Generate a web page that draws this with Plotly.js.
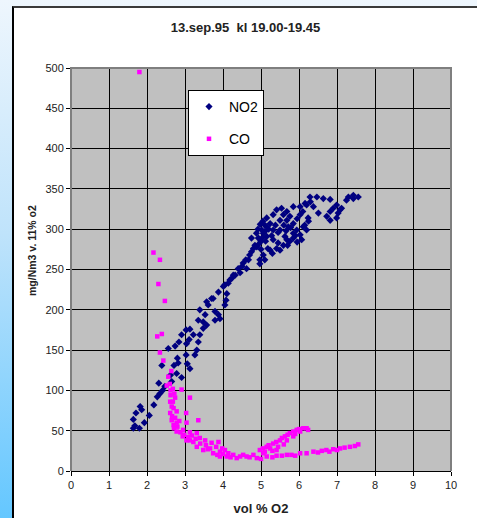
<!DOCTYPE html>
<html><head><meta charset="utf-8">
<script src="https://cdn.plot.ly/plotly-3.0.1.min.js"></script>
<style>
html,body{margin:0;padding:0;width:477px;height:518px;overflow:hidden;}
#bg{position:absolute;left:0;top:0;width:477px;height:518px;background:linear-gradient(to bottom,#eef6fd 0%,#bfe3fb 45%,#64c7ff 100%);}
#frame{position:absolute;left:12px;top:6px;width:470px;height:520px;background:#fff;border-left:2px solid #000;border-top:2px solid #3a3a3a;}
#gd{position:absolute;left:0;top:0;width:477px;height:518px;}
</style></head>
<body>
<div id="bg"></div><div id="frame"></div><div id="gd"></div>
<script>
const chartTitle = '13.sep.95\u00a0 kl 19.00-19.45';
const xTitle = 'vol % O2';
const yTitle = 'mg/Nm3 v. 11% o2';
const seriesNames = ['NO2', 'CO'];

const no2X = [1.64,1.68,1.80,1.64,1.71,1.82,1.86,1.93,2.06,2.18,2.27,2.34,2.41,2.31,2.47,2.65,2.62,2.78,2.91,2.71,2.82,2.80,2.39,2.56,2.74,2.84,3.03,3.13,3.06,3.04,3.11,3.26,3.31,2.91,3.03,3.13,3.22,3.35,3.39,3.48,3.35,3.48,3.57,3.53,3.39,3.61,3.57,3.79,3.79,3.88,3.92,3.74,4.05,4.08,4.10,3.88,4.01,4.14,4.23,4.32,3.70,4.05,4.18,4.27,4.40,4.53,4.62,4.67,4.75,4.84,4.97,5.06,5.24,5.41,5.59,5.76,5.85,6.03,6.07,6.20,4.93,5.06,5.02,5.15,5.24,5.32,5.50,5.59,5.68,5.76,5.85,5.94,5.72,5.50,5.63,5.15,5.32,5.54,5.85,6.03,6.16,6.29,6.47,6.64,6.82,6.99,7.08,7.12,6.90,6.82,6.73,6.82,6.99,7.03,6.38,6.51,6.24,6.03,7.30,7.43,7.56,7.43,7.25,4.75,4.89,5.15,5.32,5.41,5.68,5.85,6.11,4.95,5.00,5.05,5.10,5.20,5.12,5.00,5.28,5.38,5.45,5.60,5.66,5.78,5.95,6.10,6.20,6.30,4.92,4.98,5.05,4.88,5.10,5.18,5.45,5.68,5.90,6.15,6.25,4.97,5.10,5.30,5.50,5.70,5.95,4.45,4.50,4.60,4.70,4.80];
const no2Y = [53,56,53,64,72,80,76,60,69,82,92,96,100,109,105,111,119,121,116,131,134,140,131,152,155,160,144,127,133,158,163,144,150,169,175,176,169,160,169,177,187,185,181,194,200,206,210,198,187,194,189,214,206,212,220,222,229,233,239,243,214,231,237,243,251,258,251,262,272,280,262,268,274,276,280,285,289,293,287,299,289,295,299,303,307,299,311,318,322,316,307,299,303,299,291,291,287,326,328,328,332,340,340,338,337,330,324,326,326,322,316,311,314,320,328,320,314,318,340,342,340,338,336,289,278,314,318,324,311,295,303,282,285,290,297,300,285,275,292,305,296,305,298,302,313,322,330,334,300,306,310,295,305,276,283,287,292,305,310,257,262,270,274,280,284,246,254,262,268,276];

const coX = [1.80,2.17,2.34,2.30,2.47,2.39,2.27,2.34,2.43,2.64,2.56,2.52,2.91,3.13,2.62,2.74,2.61,2.65,2.78,2.61,3.03,3.35,3.04,2.65,2.78,2.71,2.78,3.13,3.31,2.94,3.04,3.22,3.39,3.53,3.31,3.48,3.66,3.88,3.74,3.92,4.05,4.10,4.36,4.62,4.89,5.15,5.41,5.68,6.03,6.38,6.72,7.08,7.34,7.56,7.47,4.97,5.15,5.32,5.50,5.63,5.76,5.94,6.11,6.24,6.03,5.85,5.68,5.41,5.24,5.06,4.80,4.53,4.27,4.14,3.92,2.95,3.13,4.20,4.45,4.70,5.00,5.30,5.55,5.80,5.90,6.20,6.50,6.60,6.90,7.20,7.00,6.80,5.05,5.20,5.40,5.55,5.70,5.85,6.00,6.20,5.30,5.60,5.90,5.10,5.45,2.62,2.68,2.70,2.66,2.74,2.70,2.80,2.88,2.98,3.08,3.18,3.28,3.40,3.55,3.60,3.70,3.82,3.98,4.00,3.85,2.85,2.72,2.68,2.60];
const coY = [495,271,262,232,211,170,167,147,137,124,117,106,101,91,94,91,86,80,74,72,72,63,60,63,60,53,49,48,47,43,38,36,41,38,30,26,28,36,22,24,26,18,16,18,16,18,19,20,22,24,26,28,30,33,31,26,30,34,38,43,47,51,53,51,49,43,38,26,28,22,20,20,20,22,18,51,38,17,18,17,15,17,19,20,19,22,23,25,27,29,26,24,28,32,36,41,45,49,52,53,25,33,46,24,30,100,86,78,68,66,57,55,48,45,42,44,40,34,32,27,35,30,28,21,20,62,96,102,108];

const xTicks = [0,1,2,3,4,5,6,7,8,9,10];
const yTicks = [0,50,100,150,200,250,300,350,400,450,500];

const font = 'Liberation Sans, Arial, sans-serif';

const traces = [
  {x: no2X, y: no2Y, type: 'scatter', mode: 'markers', name: seriesNames[0], legendgroup: 'a',
   marker: {symbol: 'diamond', size: 5.5, color: '#000080'}},
  {x: coX, y: coY, type: 'scatter', mode: 'markers', name: seriesNames[1], legendgroup: 'b',
   marker: {symbol: 'square', size: 4.5, color: '#ff00ff'}}
];

const axisCommon = {
  showgrid: true, gridcolor: '#000', gridwidth: 1, zeroline: false,
  ticks: 'outside', ticklen: 4, tickcolor: '#000', tickwidth: 1,
  tickfont: {family: font, size: 11, color: '#222'}, fixedrange: true
};

const layout = {
  width: 477, height: 518,
  margin: {l: 71, r: 26, t: 68, b: 47, autoexpand: false},
  paper_bgcolor: 'rgba(0,0,0,0)', plot_bgcolor: '#c0c0c0',
  font: {family: font, color: '#000'},
  title: {text: chartTitle, font: {family: font, size: 13, weight: 'bold', color: '#222'},
          xref: 'container', x: 245.5/477, xanchor: 'center', yref: 'container', y: 1 - 27/518, yanchor: 'middle'},
  xaxis: Object.assign({}, axisCommon, {range: [0, 10], tickvals: xTicks, showline: true, linecolor: '#000', linewidth: 1,
    title: {text: xTitle, font: {family: font, size: 13, weight: 'bold', color: '#222'}, standoff: 13}}),
  yaxis: Object.assign({}, axisCommon, {range: [0, 500], tickvals: yTicks, showline: false}),
  showlegend: true,
  legend: {x: (188-71)/380, xanchor: 'left', y: (471-90)/403, yanchor: 'top',
    bgcolor: '#fff', bordercolor: '#000', borderwidth: 1,
    font: {family: font, size: 14, color: '#000'}, tracegroupgap: 11, traceorder: 'grouped'},
  shapes: [
    {type: 'path', xref: 'paper', yref: 'paper', path: 'M 0 0 L 0 1 L 1 1 L 1 0', line: {color: '#7f7f7f', width: 2}, fillcolor: 'rgba(0,0,0,0)', layer: 'above'}
  ],
  annotations: [
    {text: yTitle, xref: 'paper', yref: 'paper', x: (32-71)/380, y: (471-251)/403, xanchor: 'center', yanchor: 'middle',
     textangle: -90, showarrow: false, font: {family: font, size: 10.5, weight: 'bold', color: '#222'}}
  ]
};

Plotly.newPlot('gd', traces, layout, {displayModeBar: false, staticPlot: true});
</script>
</body></html>
